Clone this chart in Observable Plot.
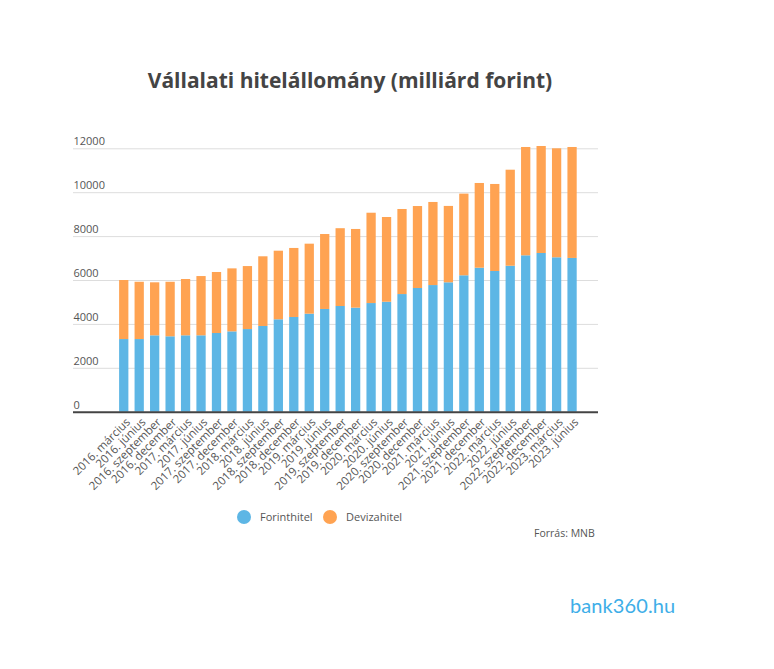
<!DOCTYPE html>
<html>
<head>
<meta charset="utf-8">
<script src="https://cdn.jsdelivr.net/npm/d3@7"></script>
<script src="https://cdn.jsdelivr.net/npm/@observablehq/plot@0.6"></script>
<style>
  html, body { margin: 0; padding: 0; background: #fff; }
  #wrap { position: relative; width: 774px; height: 669px; font-family: "Open Sans", sans-serif; }
  #chart { position: absolute; left: 0; top: 0; }
  #title { position: absolute; left: 0; width: 700px; top: 66px; text-align: center; font-size: 21px; font-weight: 700; color: #444; }
  .leg { position: absolute; top: 509px; font-size: 11px; color: #555; display: flex; align-items: center; }
  .dot { width: 14px; height: 14px; border-radius: 50%; display: inline-block; margin-right: 9px; }
  #src { position: absolute; left: 534px; top: 526px; font-size: 10.5px; color: #555; }
  #logo { position: absolute; left: 570px; top: 593px; font-size: 20px; color: #3EAEE8; font-family: "Lato", sans-serif; font-weight: 400; letter-spacing: 0.1px; }
</style>
</head>
<body>
<div id="wrap">
  <div id="chart"></div>
  <div id="title">Vállalati hitelállomány (milliárd forint)</div>
  <div class="leg" style="left:237px"><span class="dot" style="background:#5DB6E5"></span>Forinthitel</div>
  <div class="leg" style="left:323px"><span class="dot" style="background:#FFA352"></span>Devizahitel</div>
  <div id="src">Forrás: MNB</div>
  <div id="logo">bank360.hu</div>
</div>
<script>
const periods = [
  "2016. március","2016. június","2016. szeptember","2016. december",
  "2017. március","2017. június","2017. szeptember","2017. december",
  "2018. március","2018. június","2018. szeptember","2018. december",
  "2019. március","2019. június","2019. szeptember","2019. december",
  "2020. március","2020. június","2020. szeptember","2020. december",
  "2021. március","2021. június","2021. szeptember","2021. december",
  "2022. március","2022. június","2022. szeptember","2022. december",
  "2023. március","2023. június"
];
const forinthitel = [3310,3310,3480,3435,3480,3480,3585,3660,3765,3905,4210,4315,4465,4680,4815,4740,4950,5010,5360,5635,5770,5895,6215,6560,6410,6650,7125,7230,7035,7005];
const devizahitel = [2690,2610,2415,2485,2565,2700,2780,2870,2870,3175,3125,3145,3190,3415,3545,3585,4115,3860,3875,3735,3785,3480,3720,3860,3965,4375,4935,4875,4965,5055];
const seriesNames = ["Forinthitel","Devizahitel"];
const colors = ["#5DB6E5","#FFA352"];
const yTicks = [0,2000,4000,6000,8000,10000,12000];

const rows = [];
periods.forEach((p, i) => {
  rows.push({period: p, series: seriesNames[0], value: forinthitel[i]});
  rows.push({period: p, series: seriesNames[1], value: devizahitel[i]});
});

const chart = Plot.plot({
  width: 774,
  height: 500,
  marginTop: 148.3,
  marginBottom: 88.3,
  marginLeft: 73,
  marginRight: 176,
  style: {fontFamily: "Open Sans, sans-serif", fontSize: "11px", color: "#555", background: "transparent"},
  x: {domain: periods, paddingInner: 0.4, paddingOuter: 2.18, align: 0.684, round: false, label: null},
  y: {domain: [0, 12000], label: null, axis: null},
  color: {domain: seriesNames, range: colors},
  marks: [
    Plot.ruleY(yTicks.slice(1), {stroke: "#ddd", strokeWidth: 1}),
    Plot.barY(rows, {x: "period", y: "value", fill: "series"}),
    Plot.ruleY([0], {stroke: "#444", strokeWidth: 2}),
    Plot.text(yTicks, {y: d => d, text: d => String(d), frameAnchor: "left", textAnchor: "start", dy: -7, fill: "#555", fontSize: 11}),
    Plot.axisX({tickRotate: -45, tickSize: 0, tickPadding: 8, dx: 4, fontSize: 11.5, fill: "#555", label: null})
  ]
});
document.getElementById("chart").appendChild(chart);
</script>
</body>
</html>
